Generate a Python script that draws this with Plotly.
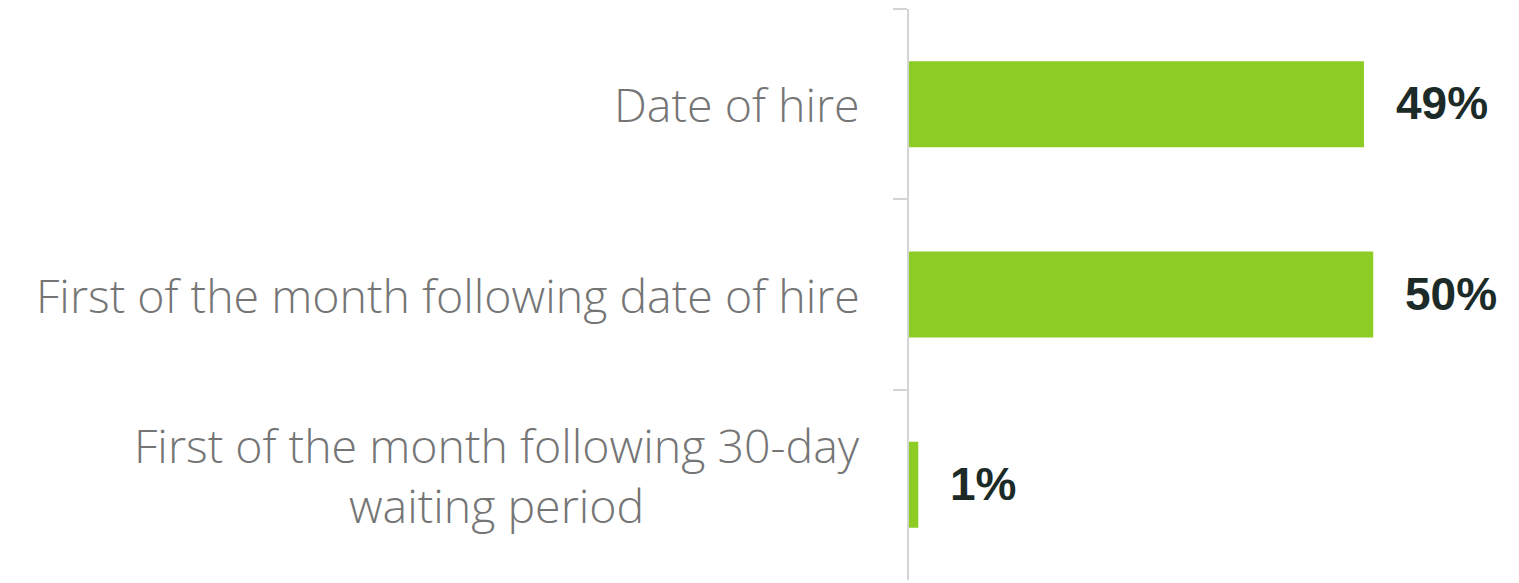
import plotly.graph_objects as go

# Data
categories = ["Date of hire", "First of the month following date of hire",
              "First of the month following 30-day waiting period"]
label_text = ["Date of hire",
              "First of the month following date of hire",
              "First of the month following 30-day<br>waiting period"]
values = [49, 50, 1]
value_labels = ["49%", "50%", "1%"]

BAR_COLOR = "#8ccc24"
LABEL_COLOR = "#757575"
VALUE_COLOR = "#1c2b28"
AXIS_COLOR = "#d4d4d4"

fig = go.Figure(go.Bar(
    x=values, y=categories, orientation="h",
    marker=dict(color=BAR_COLOR, line=dict(width=0)),
    width=0.452, hoverinfo="skip",
))

annotations = []
# value labels to the right of each bar
for cat, v, t in zip(categories, values, value_labels):
    annotations.append(dict(
        x=v, y=cat, xref="x", yref="y", text=t, showarrow=False,
        xanchor="left", yanchor="middle", xshift=30, yshift=1,
        font=dict(family="Liberation Sans, Arial", size=46, color=VALUE_COLOR, weight="bold"),
    ))

# category labels to the left of the axis (multi-line labels centred)
label_font = dict(family="Open Sans", size=46.5, color=LABEL_COLOR, weight=300)
for cat, txt in zip(categories, label_text):
    multi = "<br>" in txt
    annotations.append(dict(
        x=0, y=cat, xref="paper", yref="y", text=txt, showarrow=False,
        xanchor="right", yanchor="middle", align="center",
        xshift=-47, yshift=10 if multi else 0, font=label_font,
    ))

fig.update_layout(
    width=1519, height=583,
    margin=dict(l=909, r=0, t=9, b=3),
    paper_bgcolor="white", plot_bgcolor="white",
    showlegend=False,
    annotations=annotations,
    xaxis=dict(visible=False, range=[0, 65.7], fixedrange=True),
    yaxis=dict(
        type="category", categoryarray=categories, range=[2.5, -0.5],
        showline=True, linecolor=AXIS_COLOR, linewidth=2,
        ticks="outside", tickson="boundaries", ticklen=14,
        tickcolor=AXIS_COLOR, tickwidth=1.5,
        showticklabels=False, showgrid=False, zeroline=False, fixedrange=True,
    ),
)

fig.write_html("out.html", config={"displayModeBar": False})
